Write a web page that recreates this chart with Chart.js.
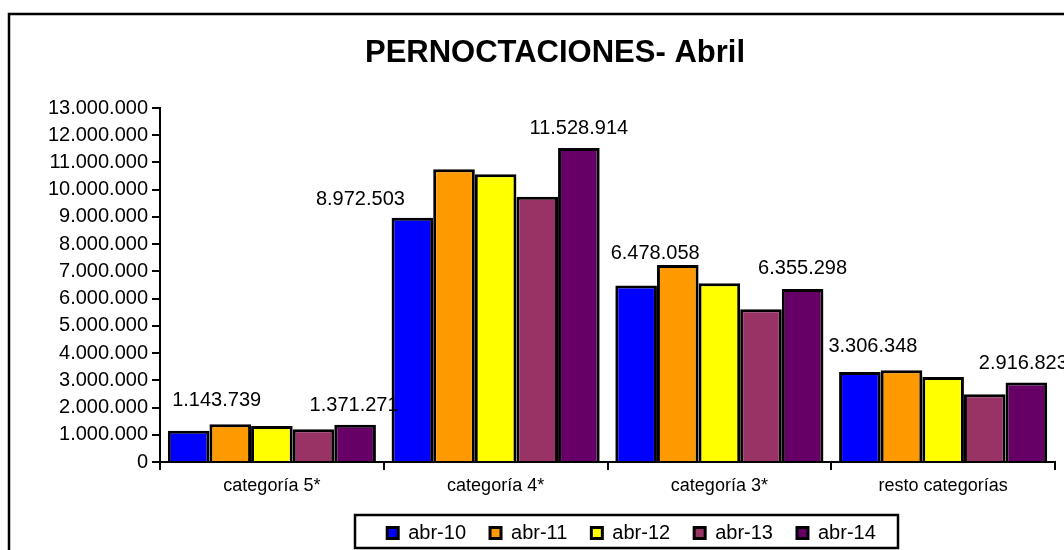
<!DOCTYPE html>
<html>
<head>
<meta charset="utf-8">
<script src="https://cdn.jsdelivr.net/npm/chart.js@4"></script>
<style>
  html, body { margin: 0; padding: 0; background: #fff; }
  #caja { width: 1064px; height: 550px; position: relative; }
</style>
</head>
<body>
<div id="caja"><canvas id="grafica"></canvas></div>
<script>
const categorias = ["categoría 5*", "categoría 4*", "categoría 3*", "resto categorías"];
const series = ["abr-10", "abr-11", "abr-12", "abr-13", "abr-14"];
const abr10 = [1143739, 8972503, 6478058, 3306348];
const abr11 = [1390000, 10750000, 7230000, 3370000];
const abr12 = [1320000, 10570000, 6560000, 3120000];
const abr13 = [1200000, 9740000, 5610000, 2490000];
const abr14 = [1371271, 11528914, 6355298, 2916823];
const colores = ["#0000FF", "#FF9900", "#FFFF00", "#993366", "#660066"];

const fuente = "'Liberation Sans', Arial, sans-serif";

function formatoMiles(n) {
    return String(Math.round(n)).replace(/\B(?=(\d{3})+(?!\d))/g, ".");
}

// etiquetas solo en abr-10 y abr-14, con el desplazamiento [dx, dy] del original
const posEtiquetas = {
    0: [[28, -30], [-52, -18], [19, -32], [13, -25]],
    4: [[-1, -19], [0, -20], [0, -20], [-3, -19]]
};

const pluginExtras = {
    id: 'extras',
    afterLayout(chart) {
        // la leyenda del original no esta centrada en el lienzo
        const lg = chart.legend;
        lg.left += 99; lg.right += 99;
        lg.top += 3; lg.bottom += 3;
    },
    afterDraw(chart) {
        const ctx = chart.ctx;
        ctx.save();
        // titulo
        ctx.fillStyle = '#000';
        ctx.font = "bold 31px " + fuente;
        ctx.textAlign = 'center';
        ctx.textBaseline = 'middle';
        ctx.fillText("PERNOCTACIONES- Abril", 555, 53);

        // etiquetas de datos
        ctx.font = "20px " + fuente;
        for (const ds in posEtiquetas) {
            const meta = chart.getDatasetMeta(Number(ds));
            meta.data.forEach((bar, i) => {
                const v = chart.data.datasets[ds].data[i];
                const d = posEtiquetas[ds][i];
                ctx.fillText(formatoMiles(v), bar.x + d[0], bar.y + d[1]);
            });
        }

        // marco de la leyenda
        ctx.lineWidth = 2.5;
        ctx.strokeStyle = '#000';
        ctx.strokeRect(355, 515, 543, 33);

        // marco exterior
        ctx.strokeRect(9, 14, 1100, 600);
        ctx.restore();
    }
};

const datos = [abr10, abr11, abr12, abr13, abr14];

new Chart(document.getElementById('grafica'), {
    type: 'bar',
    data: {
        labels: categorias,
        datasets: series.map((s, i) => ({
            label: s,
            data: datos[i],
            backgroundColor: colores[i],
            borderColor: '#000',
            borderWidth: 3,
            borderSkipped: 'bottom',
            categoryPercentage: 0.93,
            barPercentage: 1.0
        }))
    },
    options: {
        responsive: true,
        maintainAspectRatio: false,
        animation: false,
        layout: { padding: { left: 10, right: 9, top: 108, bottom: 0 } },
        plugins: {
            title: { display: false },
            tooltip: { enabled: false },
            legend: {
                position: 'bottom',
                labels: {
                    color: '#000',
                    font: { family: fuente, size: 20 },
                    boxWidth: 11,
                    boxHeight: 11,
                    padding: 24
                }
            }
        },
        scales: {
            x: {
                afterFit: s => { s.height = 34; },
                grid: { drawOnChartArea: false, color: '#000', tickLength: 8, lineWidth: 2 },
                border: { color: '#000', width: 2 },
                ticks: { color: '#000', font: { family: fuente, size: 18, lineHeight: 1.0 }, padding: 7 }
            },
            y: {
                min: 0,
                max: 13000000,
                afterFit: s => { s.width = 150; },
                grid: { drawOnChartArea: false, color: '#000', tickLength: 8, lineWidth: 2 },
                border: { color: '#000', width: 2 },
                ticks: {
                    stepSize: 1000000,
                    color: '#000',
                    font: { family: fuente, size: 20 },
                    padding: 4,
                    callback: v => formatoMiles(v)
                }
            }
        }
    },
    plugins: [pluginExtras]
});
</script>
</body>
</html>
